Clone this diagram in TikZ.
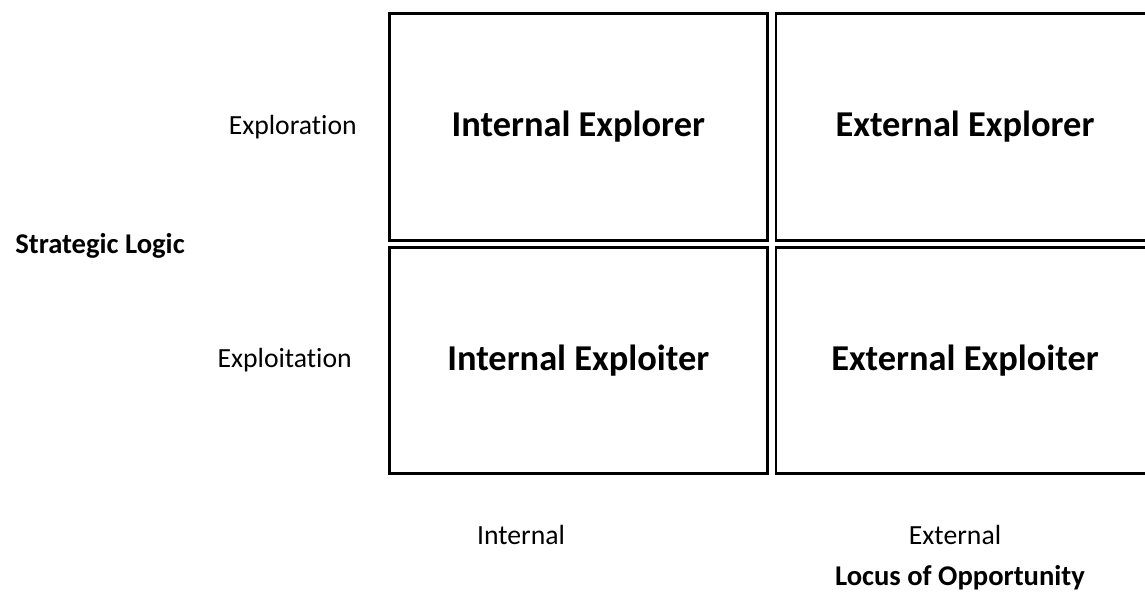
\documentclass[tikz,border=0pt]{standalone}
\usepackage{fontspec}
\setmainfont[Ligatures=NoCommon]{Carlito}
\usetikzlibrary{positioning}

\begin{document}
\begin{tikzpicture}[
        x=1pt, y=-1pt,
        node distance = 7.3pt and 8.7pt,
        cell/.style = {draw, line width=2.5pt, outer sep=0pt, minimum width=378pt, minimum height=227pt, align=center, font=\fontsize{36.4}{44}\selectfont\bfseries},
        level/.style = {font=\fontsize{27.7}{33}\selectfont},
        axis/.style = {font=\fontsize{28.6}{34}\selectfont\bfseries},
    ]
        \useasboundingbox (0,0) rectangle (1145,594);
        % 2x2 grid of strategy types
        \node[cell, anchor=north west] (inexplore) at (389.3,13.3) {Internal Explorer};
        \node[cell, right=of inexplore] (exexplore) {External Explorer};
        \node[cell, below=of inexplore, minimum height=226pt] (inexploit) {Internal Exploiter};
        \node[cell, below=of exexplore, minimum height=226pt] (exexploit) {External Exploiter};
        % row and column levels
        \node[level, left=29pt of inexplore] (explore) {Exploration};
        \node[level, left=34pt of inexploit] (exploit) {Exploitation};
        \node[level] (internal) at (521,535) {Internal};
        \node[level] (external) at (955,535) {External};
        % axis titles
        \node[axis] (logic) at (100,246) {Strategic Logic};
        \node[axis] (locus) at (960,578) {Locus of Opportunity};
    \end{tikzpicture}
\end{document}
